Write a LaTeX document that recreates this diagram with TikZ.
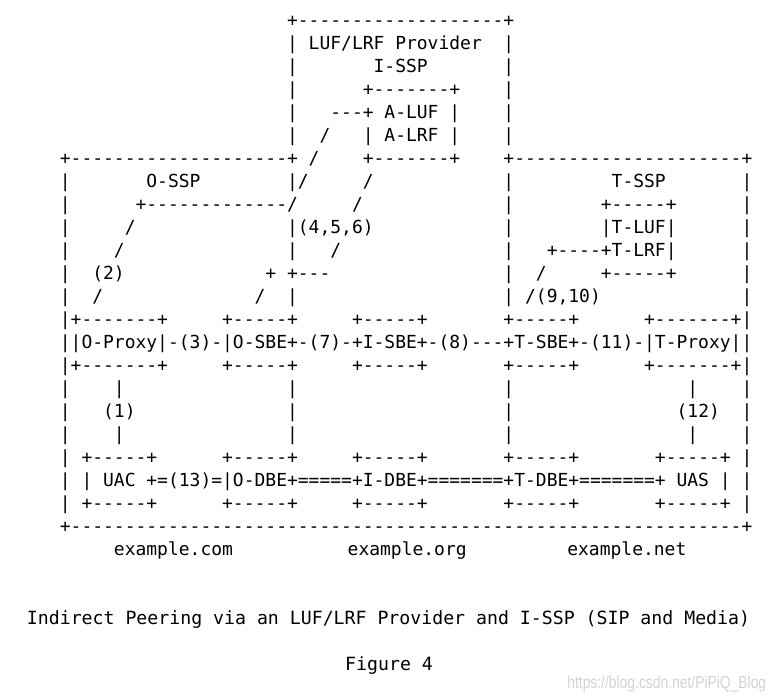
\documentclass[tikz,border=0pt]{standalone}
\usepackage{fontspec}
\setmonofont{DejaVu Sans Mono}
\newfontfamily\wmfont{Liberation Sans}
\newcommand{\drun}[1]{\foreach \k in {1,...,#1}{-}}
\begin{document}
\begin{tikzpicture}[x=8.115pt, y=-17.25pt,
  asc/.style={anchor=base west, inner sep=0pt, font=\ttfamily\fontsize{13.48}{16}\selectfont\frenchspacing},
  captxt/.style={anchor=base, inner sep=0pt, font=\ttfamily\fontsize{13.65}{16}\selectfont\frenchspacing}]
\useasboundingbox (-5.508,-0.152) rectangle (66.58,30.24);
\path
(21,1) node[asc] (r1) {+\drun{19}+}
(21,2) node[asc] (r2a) {| LUF/LRF Provider}
(41,2) node[asc] (r2b) {|}
(21,3) node[asc] (r3a) {|}
(29,3) node[asc] (r3b) {I-SSP}
(41,3) node[asc] (r3c) {|}
(21,4) node[asc] (r4a) {|}
(28,4) node[asc] (r4b) {+\drun{7}+}
(41,4) node[asc] (r4c) {|}
(21,5) node[asc] (r5a) {|}
(25,5) node[asc] (r5b) {\drun{3}+ A-LUF |}
(41,5) node[asc] (r5c) {|}
(21,6) node[asc] (r6a) {|}
(24,6) node[asc] (r6b) {/}
(28,6) node[asc] (r6c) {| A-LRF |}
(41,6) node[asc] (r6d) {|};
\path
(0,7) node[asc] (r7a) {+\drun{20}+ /}
(28,7) node[asc] (r7b) {+\drun{7}+}
(41,7) node[asc] (r7c) {+\drun{21}+}
(0,8) node[asc] (r8a) {|}
(8,8) node[asc] (r8b) {O-SSP}
(21,8) node[asc] (r8c) {|/}
(28,8) node[asc] (r8d) {/}
(41,8) node[asc] (r8e) {|}
(51,8) node[asc] (r8f) {T-SSP}
(63,8) node[asc] (r8g) {|}
(0,9) node[asc] (r9a) {|}
(7,9) node[asc] (r9b) {+\drun{13}/}
(27,9) node[asc] (r9c) {/}
(41,9) node[asc] (r9d) {|}
(50,9) node[asc] (r9e) {+\drun{5}+}
(63,9) node[asc] (r9f) {|}
(0,10) node[asc] (r10a) {|}
(6,10) node[asc] (r10b) {/}
(21,10) node[asc] (r10c) {|(4,5,6)}
(41,10) node[asc] (r10d) {|}
(50,10) node[asc] (r10e) {|T-LUF|}
(63,10) node[asc] (r10f) {|}
(0,11) node[asc] (r11a) {|}
(5,11) node[asc] (r11b) {/}
(21,11) node[asc] (r11c) {|}
(25,11) node[asc] (r11d) {/}
(41,11) node[asc] (r11e) {|}
(45,11) node[asc] (r11f) {+\drun{4}+T-LRF|}
(63,11) node[asc] (r11g) {|}
(0,12) node[asc] (r12a) {|}
(3,12) node[asc] (r12b) {(2)}
(19,12) node[asc] (r12c) {+ +\drun{3}}
(41,12) node[asc] (r12d) {|}
(44,12) node[asc] (r12e) {/}
(50,12) node[asc] (r12f) {+\drun{5}+}
(63,12) node[asc] (r12g) {|}
(0,13) node[asc] (r13a) {|}
(3,13) node[asc] (r13b) {/}
(18,13) node[asc] (r13c) {/}
(21,13) node[asc] (r13d) {|}
(41,13) node[asc] (r13e) {| /(9,10)}
(63,13) node[asc] (r13f) {|};
\path
(0,14) node[asc] (r14a) {|+\drun{7}+}
(15,14) node[asc] (r14b) {+\drun{5}+}
(27,14) node[asc] (r14c) {+\drun{5}+}
(41,14) node[asc] (r14d) {+\drun{5}+}
(54,14) node[asc] (r14e) {+\drun{7}+|}
(0,15) node[asc] (r15) {||O-Proxy|-(3)-|O-SBE+-(7)-+I-SBE+-(8)\drun{3}+T-SBE+-(11)-|T-Proxy||}
(0,16) node[asc] (r16a) {|+\drun{7}+}
(15,16) node[asc] (r16b) {+\drun{5}+}
(27,16) node[asc] (r16c) {+\drun{5}+}
(41,16) node[asc] (r16d) {+\drun{5}+}
(54,16) node[asc] (r16e) {+\drun{7}+|}
(0,17) node[asc] (r17a) {|}
(5,17) node[asc] (r17b) {|}
(21,17) node[asc] (r17c) {|}
(41,17) node[asc] (r17d) {|}
(58,17) node[asc] (r17e) {|}
(63,17) node[asc] (r17f) {|}
(0,18) node[asc] (r18a) {|}
(4,18) node[asc] (r18b) {(1)}
(21,18) node[asc] (r18c) {|}
(41,18) node[asc] (r18d) {|}
(57,18) node[asc] (r18e) {(12)}
(63,18) node[asc] (r18f) {|}
(0,19) node[asc] (r19a) {|}
(5,19) node[asc] (r19b) {|}
(21,19) node[asc] (r19c) {|}
(41,19) node[asc] (r19d) {|}
(58,19) node[asc] (r19e) {|}
(63,19) node[asc] (r19f) {|}
(0,20) node[asc] (r20a) {| +\drun{5}+}
(15,20) node[asc] (r20b) {+\drun{5}+}
(27,20) node[asc] (r20c) {+\drun{5}+}
(41,20) node[asc] (r20d) {+\drun{5}+}
(55,20) node[asc] (r20e) {+\drun{5}+ |}
(0,21) node[asc] (r21) {| | UAC +=(13)=|O-DBE+=====+I-DBE+=======+T-DBE+=======+ UAS | |}
(0,22) node[asc] (r22a) {| +\drun{5}+}
(15,22) node[asc] (r22b) {+\drun{5}+}
(27,22) node[asc] (r22c) {+\drun{5}+}
(41,22) node[asc] (r22d) {+\drun{5}+}
(55,22) node[asc] (r22e) {+\drun{5}+ |}
(0,23) node[asc] (r23) {+\drun{62}+};
\path
(5,24) node[asc] (com) {example.com}
(26.6,24) node[asc] (org) {example.org}
(46.9,24) node[asc] (net) {example.net}
(30.4,27) node[captxt] (title) {Indirect Peering via an LUF/LRF Provider and I-SSP (SIP and Media)}
(30.45,29) node[captxt] (fig) {Figure 4}
(46.9,29.8) node[anchor=base west, inner sep=0pt, text=gray!35, font=\wmfont\fontsize{13}{15}\selectfont] (wm) {\scalebox{0.8}[1]{https://blog.csdn.net/PiPiQ\_Blog}};
\end{tikzpicture}
\end{document}
